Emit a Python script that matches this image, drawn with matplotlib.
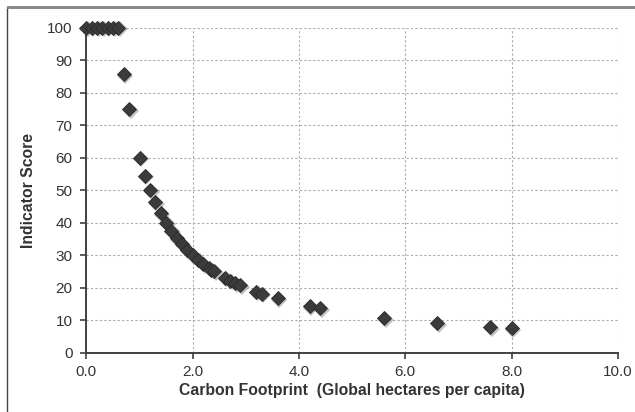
import matplotlib
matplotlib.use('Agg')
import matplotlib.pyplot as plt
from matplotlib.patches import Rectangle
from matplotlib.transforms import offset_copy

plt.rcParams['font.family'] = ['Liberation Sans', 'DejaVu Sans']

# carbon footprint (gha per capita) vs indicator score
footprint = [0.0, 0.1, 0.2, 0.3, 0.4, 0.5, 0.6, 0.7, 0.8, 1.0, 1.1, 1.2,
             1.3, 1.4, 1.5, 1.6, 1.7, 1.8, 1.9, 2.0, 2.1, 2.2, 2.3, 2.35,
             2.4, 2.6, 2.7, 2.8, 2.9, 3.2, 3.3, 3.6, 4.2, 4.4, 5.6, 6.6,
             7.6, 8.0]
score = [100, 100, 100, 100, 100, 100, 100, 85.7, 75.0, 60.0, 54.5, 50.0,
         46.2, 42.9, 40.0, 37.5, 35.3, 33.3, 31.6, 30.0, 28.6, 27.3, 26.1,
         25.5, 25.0, 23.1, 22.2, 21.4, 20.7, 18.8, 18.2, 16.7, 14.3, 13.6,
         10.7, 9.1, 7.9, 7.5]

xticks = [0, 2, 4, 6, 8, 10]
xtick_labels = ['0.0', '2.0', '4.0', '6.0', '8.0', '10.0']
yticks = list(range(0, 101, 10))

fig = plt.figure(figsize=(6.35, 4.12), dpi=100)
ax = fig.add_axes([0.136, 0.144, 0.837, 0.789])

# outer frame of the original figure (only top/left visible)
fig.patches.append(Rectangle((7 / 635, -0.1), 1.2, 1 - 7 / 412 + 0.1,
                             transform=fig.transFigure, fill=False,
                             edgecolor='#444444', linewidth=1.0))
fig.patches.append(Rectangle((7 / 635, 1 - 7 / 412), 1.2, 0.0,
                             transform=fig.transFigure, fill=False,
                             edgecolor='#8a8a8a', linewidth=2.0))

# soft shadow under the markers
shadow = offset_copy(ax.transData, fig=fig, x=1.2, y=-1.2, units='points')
ax.plot(footprint, score, 'D', color='#9a9a9a', markersize=7.8,
        markeredgewidth=0, alpha=0.6, transform=shadow, clip_on=False,
        zorder=3)
ax.plot(footprint, score, 'D', color='#3b3b3b', markersize=7.0,
        markeredgecolor='#2a2a2a', markeredgewidth=0.6, clip_on=False,
        zorder=4)

ax.set_xlim(0, 10)
ax.set_ylim(0, 100)
ax.set_xticks(xticks)
ax.set_xticklabels(xtick_labels)
ax.set_yticks(yticks)

ax.grid(True, color='#ababab', linestyle=(0, (2, 2)), linewidth=0.8)
ax.set_axisbelow(True)

for side in ['top', 'right']:
    ax.spines[side].set_visible(False)
for side in ['left', 'bottom']:
    ax.spines[side].set_color('#404040')
    ax.spines[side].set_linewidth(1.4)

ax.tick_params(axis='both', direction='out', length=4, width=1.2,
               color='#404040', labelsize=11, labelcolor='#333333')
ax.tick_params(axis='x', pad=5)
ax.tick_params(axis='y', pad=6)

ax.set_xlabel('Carbon Footprint  (Global hectares per capita)',
              fontsize=11.3, fontweight='bold', color='#333333', labelpad=3)
ax.set_ylabel('Indicator Score', fontsize=11.3, fontweight='bold',
              color='#333333', labelpad=8)

fig.savefig('out.png', dpi=100)
